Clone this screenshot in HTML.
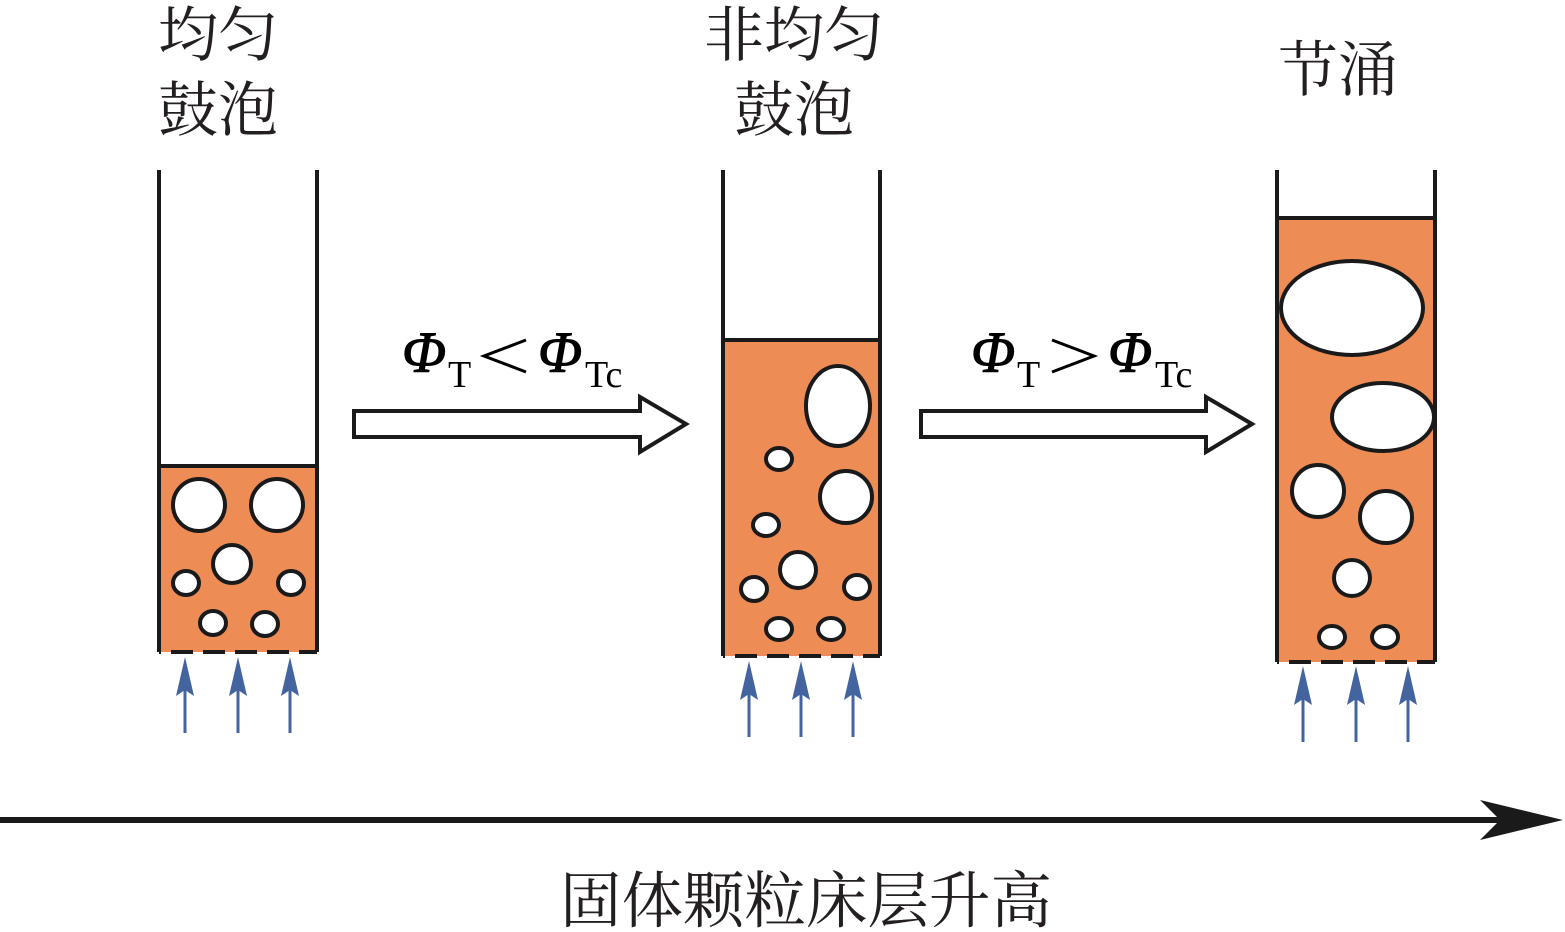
<!DOCTYPE html>
<html><head><meta charset="utf-8"><style>
html,body{margin:0;padding:0;background:#fff;}
svg{display:block;}
.cj{font-family:"Liberation Serif","Noto Serif CJK SC","Noto Sans CJK SC",serif;font-size:60px;fill:#231f20;}
.cjb{font-family:"Liberation Serif","Noto Serif CJK SC","Noto Sans CJK SC",serif;font-size:61.5px;fill:#231f20;}
.ph{font-family:"Liberation Serif",serif;font-style:italic;font-size:58px;fill:#000;}
.sb{font-family:"Liberation Serif",serif;font-size:38px;fill:#000;}
</style></head><body>
<svg width="1565" height="932" viewBox="0 0 1565 932" xmlns="http://www.w3.org/2000/svg">
<g stroke="#1a1a1a" stroke-width="4">
<rect x="159" y="466" width="158" height="186" fill="#ee8c55" stroke="none"/>
<line x1="159" y1="170" x2="159" y2="652"/><line x1="317" y1="170" x2="317" y2="652"/>
<line x1="159" y1="466" x2="317" y2="466"/>
<line x1="159" y1="652" x2="317" y2="652" stroke-dasharray="22,10" stroke-dashoffset="-12"/>
<g fill="#fff">
<circle cx="199" cy="505" r="26"/><circle cx="277" cy="505" r="26"/><circle cx="232" cy="564" r="19"/>
<ellipse cx="186" cy="583" rx="13" ry="12"/><ellipse cx="291" cy="583" rx="13" ry="12"/>
<ellipse cx="213" cy="623" rx="13" ry="12"/><ellipse cx="265" cy="624" rx="13" ry="12"/>
</g>
<rect x="723" y="340" width="157" height="316" fill="#ee8c55" stroke="none"/>
<line x1="723" y1="170" x2="723" y2="656"/><line x1="880" y1="170" x2="880" y2="656"/>
<line x1="723" y1="340" x2="880" y2="340"/>
<line x1="723" y1="656" x2="880" y2="656" stroke-dasharray="22,10" stroke-dashoffset="-12"/>
<g fill="#fff">
<ellipse cx="838" cy="406" rx="32" ry="40"/><ellipse cx="779" cy="459" rx="13" ry="11"/>
<circle cx="846" cy="497" r="26"/><ellipse cx="766" cy="525" rx="13" ry="11"/>
<circle cx="798" cy="570" r="18"/><ellipse cx="754" cy="589" rx="13" ry="12"/>
<ellipse cx="857" cy="587" rx="13" ry="12"/><ellipse cx="779" cy="629" rx="13" ry="11"/>
<ellipse cx="831" cy="629" rx="13" ry="11"/>
</g>
<rect x="1277" y="218" width="158" height="444" fill="#ee8c55" stroke="none"/>
<line x1="1277" y1="170" x2="1277" y2="662"/><line x1="1435" y1="170" x2="1435" y2="662"/>
<line x1="1277" y1="218" x2="1435" y2="218"/>
<line x1="1277" y1="662" x2="1435" y2="662" stroke-dasharray="22,10" stroke-dashoffset="-12"/>
<g fill="#fff">
<ellipse cx="1352" cy="308" rx="71" ry="47"/><ellipse cx="1383" cy="417" rx="51" ry="34"/>
<circle cx="1318" cy="491" r="26"/><circle cx="1386" cy="517" r="26"/>
<circle cx="1352" cy="578" r="18"/><ellipse cx="1332" cy="637" rx="13" ry="11"/>
<ellipse cx="1385" cy="637" rx="13" ry="11"/>
</g>
<polygon points="354,411 640,411 640,397 686,424 640,452 640,437 354,437" fill="#fff"/>
<polygon points="921,411 1206,411 1206,397 1252,424 1206,452 1206,437 921,437" fill="#fff"/>
</g>
<g stroke="#4464a0" stroke-width="3" fill="#4464a0">
<line x1="185" y1="733" x2="185" y2="680"/><line x1="238" y1="733" x2="238" y2="680"/><line x1="290" y1="733" x2="290" y2="680"/>
<line x1="749" y1="737" x2="749" y2="684"/><line x1="801" y1="737" x2="801" y2="684"/><line x1="853" y1="737" x2="853" y2="684"/>
<line x1="1303" y1="742" x2="1303" y2="689"/><line x1="1356" y1="742" x2="1356" y2="689"/><line x1="1408" y1="742" x2="1408" y2="689"/>
</g>
<g fill="#4464a0">
<polygon points="185,657 176,696 185,690 194,696"/><polygon points="238,657 229,696 238,690 247,696"/><polygon points="290,657 281,696 290,690 299,696"/>
<polygon points="749,661 740,700 749,694 758,700"/><polygon points="801,661 792,700 801,694 810,700"/><polygon points="853,661 844,700 853,694 862,700"/>
<polygon points="1303,666 1294,705 1303,699 1312,705"/><polygon points="1356,666 1347,705 1356,699 1365,705"/><polygon points="1408,666 1399,705 1408,699 1417,705"/>
</g>
<line x1="0" y1="820" x2="1510" y2="820" stroke="#1a1a1a" stroke-width="6"/>
<polygon points="1480,800 1563,820 1480,840 1500,820" fill="#1a1a1a"/>
<text class="cj" x="158" y="56">均匀</text>
<text class="cj" x="158" y="131">鼓泡</text>
<text class="cj" x="704" y="56">非均匀</text>
<text class="cj" x="734" y="131">鼓泡</text>
<text class="cj" x="1278" y="91">节涌</text>
<text class="cjb" x="560" y="922">固体颗粒床层升高</text>
<text class="ph" x="402" y="372" stroke="#000" stroke-width="1">Φ</text><text class="sb" x="448" y="387">T</text>
<polyline points="526,340 484,356 526,372" fill="none" stroke="#000" stroke-width="3"/>
<text class="ph" x="538" y="372" stroke="#000" stroke-width="1">Φ</text><text class="sb" x="585" y="387">Tc</text>
<text class="ph" x="971" y="372" stroke="#000" stroke-width="1">Φ</text><text class="sb" x="1017" y="387">T</text>
<polyline points="1052,340 1094,356 1052,372" fill="none" stroke="#000" stroke-width="3"/>
<text class="ph" x="1108" y="372" stroke="#000" stroke-width="1">Φ</text><text class="sb" x="1155" y="387">Tc</text>
</svg>
</body></html>
